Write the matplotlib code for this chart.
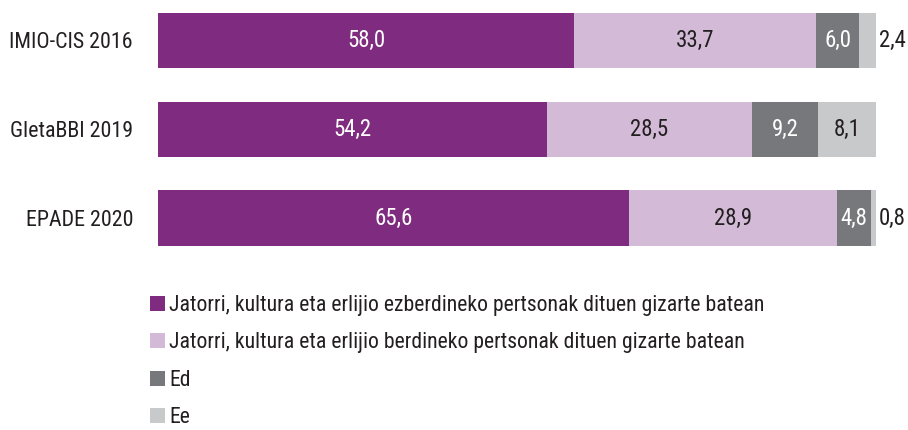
import matplotlib
matplotlib.use('Agg')
import matplotlib.pyplot as plt
from matplotlib import font_manager

# data
surveys = ['IMIO-CIS 2016', 'GletaBBI 2019', 'EPADE 2020']
different = [58.0, 54.2, 65.6]
same = [33.7, 28.5, 28.9]
ed = [6.0, 9.2, 4.8]
ee = [2.4, 8.1, 0.8]
series_names = [
    'Jatorri, kultura eta erlijio ezberdineko pertsonak dituen gizarte batean',
    'Jatorri, kultura eta erlijio berdineko pertsonak dituen gizarte batean',
    'Ed',
    'Ee',
]
colors = ['#7f2b7f', '#d3bbd8', '#77787c', '#c8c9cb']
dark = '#231f20'
text_colors = ['white', dark, 'white', dark]

names = {f.name for f in font_manager.fontManager.ttflist}
family = 'DejaVu Sans'
for cand in ['Roboto Condensed', 'Archivo Narrow', 'Barlow Semi Condensed']:
    if cand in names:
        family = cand
        break
plt.rcParams['font.family'] = [family, 'DejaVu Sans']

W, H = 908, 430
fig = plt.figure(figsize=(W / 100, H / 100), dpi=100)
ax_bottom_px = 258
ax = fig.add_axes([158 / W, 1 - ax_bottom_px / H, (876 - 158) / W, ax_bottom_px / H])

step = 88.75
ax.set_ylim((ax_bottom_px - 40.5) / step, -40.5 / step)
ax.set_xlim(0, 100)

series = [different, same, ed, ee]
ypos = list(range(len(surveys)))
left = [0.0] * len(surveys)
handles = []
for vals, col, tcol, name in zip(series, colors, text_colors, series_names):
    bars = ax.barh(ypos, vals, left=left, height=0.62, color=col, label=name)
    handles.append(bars)
    for y, v, l in zip(ypos, vals, left):
        label = f'{v:.1f}'.replace('.', ',')
        if v < 3:
            ax.text(l + v + 0.3, y, label, va='center', ha='left',
                    color=dark, fontsize=16.5)
        else:
            ax.text(l + v / 2, y, label, va='center', ha='center',
                    color=tcol, fontsize=16.5)
    left = [a + b for a, b in zip(left, vals)]

ax.set_yticks(ypos)
ax.set_yticklabels(surveys, fontsize=15.8, color=dark)
ax.tick_params(axis='y', length=0, pad=18)
ax.set_xticks([])
for s in ax.spines.values():
    s.set_visible(False)

fig.legend(handles=handles, labels=series_names, loc='upper left',
           bbox_to_anchor=(141 / W, 1 - 286 / H), frameon=False,
           fontsize=15.7, handlelength=0.68, handleheight=0.68,
           handletextpad=0.2, labelspacing=0.76, borderaxespad=0,
           labelcolor=dark)

fig.savefig('out.png', dpi=100)
